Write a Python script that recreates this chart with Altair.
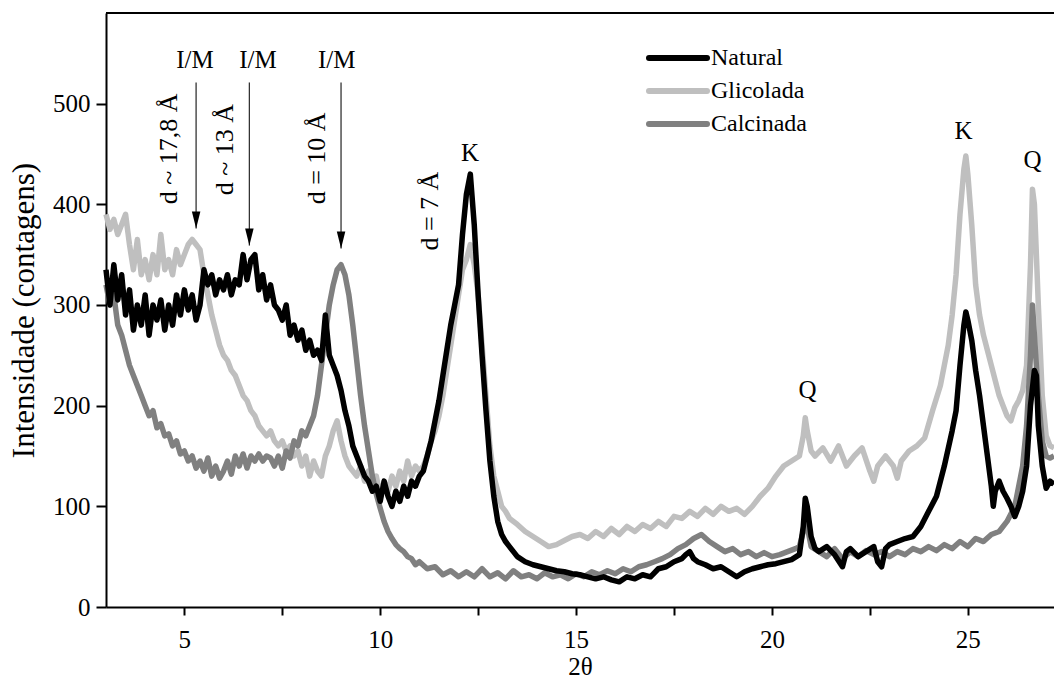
import altair as alt
import pandas as pd

SERIES = ["Natural", "Glicolada", "Calcinada"]
COLORS = ["#000000", "#bfbfbf", "#808080"]

nat_x = [3.0, 3.1, 3.2, 3.3, 3.4, 3.5, 3.6, 3.7, 3.8, 3.9, 4.0, 4.1, 4.2, 4.3, 4.4, 4.5, 4.6, 4.7, 4.8, 4.9,
         5.0, 5.1, 5.2, 5.3, 5.4, 5.5, 5.6, 5.7, 5.8, 5.9, 6.0, 6.1, 6.2, 6.3, 6.4, 6.5, 6.6, 6.7, 6.8, 6.9,
         7.0, 7.1, 7.2, 7.3, 7.4, 7.5, 7.6, 7.7, 7.8, 7.9, 8.0, 8.1, 8.2, 8.3, 8.4, 8.5, 8.6, 8.7, 8.8, 8.9,
         9.0, 9.1, 9.2, 9.3, 9.4, 9.5, 9.6, 9.7, 9.8, 9.9, 10.0, 10.1, 10.2, 10.3, 10.4, 10.5, 10.6, 10.7, 10.8, 10.9,
         11.0, 11.1, 11.2, 11.3, 11.4, 11.5, 11.6, 11.7, 11.8, 11.9, 12.0, 12.1, 12.2, 12.3, 12.4, 12.5, 12.6, 12.7, 12.8, 12.9,
         13.0, 13.1, 13.2, 13.3, 13.4, 13.5, 13.7, 13.9, 14.1, 14.3, 14.5, 14.7, 14.9, 15.1, 15.3, 15.5, 15.7, 15.9,
         16.1, 16.3, 16.5, 16.7, 16.9, 17.1, 17.3, 17.5, 17.7, 17.8, 17.9, 18.0, 18.1, 18.3, 18.5, 18.7, 18.9,
         19.1, 19.3, 19.5, 19.7, 19.9, 20.1, 20.3, 20.5, 20.7, 20.8, 20.85, 20.9, 21.0, 21.1, 21.2, 21.4, 21.6, 21.8, 21.9,
         22.0, 22.2, 22.4, 22.6, 22.7, 22.8, 22.9, 23.0, 23.2, 23.4, 23.6, 23.8, 24.0, 24.2, 24.4, 24.6, 24.7, 24.8, 24.9, 24.95,
         25.0, 25.1, 25.2, 25.3, 25.4, 25.5, 25.6, 25.65, 25.7, 25.8, 25.9, 26.0, 26.1, 26.2, 26.3, 26.4, 26.5, 26.6, 26.7, 26.75,
         26.8, 26.9, 27.0, 27.1, 27.2]
nat_y = [335, 300, 340, 305, 330, 290, 315, 275, 300, 280, 310, 270, 300, 285, 305, 275, 300, 280, 310, 290,
         315, 295, 310, 285, 300, 335, 320, 330, 310, 325, 315, 330, 310, 325, 320, 350, 325, 345, 350, 315,
         330, 305, 320, 300, 295, 285, 300, 270, 280, 265, 275, 255, 265, 250, 255, 245, 290, 250, 240, 230,
         215, 195, 180, 160, 150, 140, 130, 125, 115, 120, 105, 125, 110, 100, 115, 105, 120, 110, 125, 120,
         130, 135, 150, 165, 185, 205, 230, 255, 280, 300, 320, 370, 410, 430, 380, 310, 250, 195, 145, 110,
         85, 72, 65, 60, 55, 50, 45, 42, 40, 38, 36, 35, 33, 32, 30, 28, 30, 27,
         25, 30, 28, 32, 30, 38, 40, 45, 48, 52, 55, 48, 45, 42, 38, 40, 35,
         30, 35, 38, 40, 42, 43, 45, 47, 52, 80, 108, 100, 70, 58, 55, 60, 52, 40, 55,
         58, 50, 55, 60, 45, 40, 58, 62, 65, 68, 70, 80, 95, 110, 140, 175, 195, 240, 280, 293,
         285, 265, 235, 210, 180, 150, 120, 100, 115, 125, 115, 108, 100, 90, 100, 115, 140, 200, 235, 230,
         180, 140, 118, 125, 122]

gli_x = [3.0, 3.1, 3.2, 3.3, 3.4, 3.5, 3.6, 3.7, 3.8, 3.9, 4.0, 4.1, 4.2, 4.3, 4.4, 4.5, 4.6, 4.7, 4.8, 4.9,
         5.0, 5.1, 5.2, 5.3, 5.4, 5.5, 5.6, 5.7, 5.8, 5.9, 6.0, 6.1, 6.2, 6.3, 6.4, 6.5, 6.6, 6.7, 6.8, 6.9,
         7.0, 7.1, 7.2, 7.3, 7.4, 7.5, 7.6, 7.7, 7.8, 7.9, 8.0, 8.1, 8.2, 8.3, 8.4, 8.5, 8.6, 8.7, 8.8, 8.9,
         9.0, 9.1, 9.2, 9.3, 9.4, 9.5, 9.6, 9.7, 9.8, 9.9, 10.0, 10.1, 10.2, 10.3, 10.4, 10.5, 10.6, 10.7, 10.8, 10.9,
         11.0, 11.1, 11.2, 11.3, 11.4, 11.5, 11.6, 11.7, 11.8, 11.9, 12.0, 12.1, 12.2, 12.3, 12.4, 12.5, 12.6, 12.7, 12.8, 12.9,
         13.0, 13.1, 13.2, 13.3, 13.5, 13.7, 13.9, 14.1, 14.3, 14.5, 14.7, 14.9, 15.1, 15.3, 15.5, 15.7, 15.9,
         16.1, 16.3, 16.5, 16.7, 16.9, 17.1, 17.3, 17.5, 17.7, 17.9, 18.1, 18.3, 18.5, 18.7, 18.9,
         19.1, 19.3, 19.5, 19.7, 19.9, 20.1, 20.3, 20.5, 20.7, 20.8, 20.85, 20.9, 21.0, 21.1, 21.3, 21.5, 21.7, 21.9,
         22.1, 22.3, 22.5, 22.6, 22.7, 22.9, 23.1, 23.2, 23.3, 23.5, 23.7, 23.9, 24.1, 24.3, 24.5, 24.6, 24.7, 24.8, 24.9, 24.95,
         25.0, 25.1, 25.2, 25.3, 25.4, 25.5, 25.6, 25.7, 25.8, 25.9, 26.0, 26.1, 26.2, 26.3, 26.4, 26.5, 26.6, 26.65, 26.7,
         26.8, 26.9, 27.0, 27.1, 27.2]
gli_y = [390, 375, 385, 370, 380, 390, 360, 335, 365, 330, 345, 325, 350, 330, 370, 335, 345, 330, 355, 340,
         350, 360, 365, 360, 355, 330, 310, 290, 275, 260, 250, 245, 235, 230, 220, 210, 205, 195, 190, 180,
         175, 170, 175, 165, 160, 165, 155, 160, 150, 155, 140, 150, 130, 145, 135, 130, 150, 160, 175, 185,
         165, 150, 140, 135, 130, 140, 125, 135, 120, 130, 110, 125, 115, 130, 120, 135, 125, 145, 130, 140,
         135, 140, 150, 165, 175, 190, 210, 235, 260, 285, 310, 335, 345, 360, 340, 310, 260, 210, 160, 130,
         115, 100, 95, 88, 82, 75, 70, 65, 60, 62, 66, 70, 72, 68, 75, 70, 78,
         72, 80, 75, 82, 78, 85, 80, 90, 88, 95, 90, 98, 92, 100, 95,
         98, 92, 100, 110, 118, 130, 140, 145, 150, 170, 188, 175, 155, 150, 158, 145, 160, 140,
         150, 158, 135, 125, 140, 150, 140, 128, 145, 155, 160, 168, 195, 220, 260, 290, 330, 390, 435, 448,
         430, 380, 320, 290, 270, 255, 240, 225, 210, 200, 190, 185, 198, 205, 215, 240, 340, 415, 400,
         300, 210, 170, 160, 158]

cal_x = [3.0, 3.1, 3.2, 3.3, 3.4, 3.5, 3.6, 3.7, 3.8, 3.9, 4.0, 4.1, 4.2, 4.3, 4.4, 4.5, 4.6, 4.7, 4.8, 4.9,
         5.0, 5.1, 5.2, 5.3, 5.4, 5.5, 5.6, 5.7, 5.8, 5.9, 6.0, 6.1, 6.2, 6.3, 6.4, 6.5, 6.6, 6.7, 6.8, 6.9,
         7.0, 7.1, 7.2, 7.3, 7.4, 7.5, 7.6, 7.7, 7.8, 7.9, 8.0, 8.1, 8.2, 8.3, 8.4, 8.5, 8.6, 8.7, 8.8, 8.9,
         9.0, 9.1, 9.2, 9.3, 9.4, 9.5, 9.6, 9.7, 9.8, 9.9, 10.0, 10.1, 10.2, 10.3, 10.4, 10.5, 10.6, 10.7, 10.8, 10.9,
         11.0, 11.2, 11.4, 11.6, 11.8, 12.0, 12.2, 12.4, 12.6, 12.8, 13.0, 13.2, 13.4, 13.6, 13.8, 14.0, 14.2, 14.4, 14.6, 14.8,
         15.0, 15.2, 15.4, 15.6, 15.8, 16.0, 16.2, 16.4, 16.6, 16.8, 17.0, 17.2, 17.4, 17.6, 17.8, 18.0, 18.2, 18.4, 18.6, 18.8,
         19.0, 19.2, 19.4, 19.6, 19.8, 20.0, 20.2, 20.4, 20.6, 20.7, 20.8, 20.85, 20.9, 21.0, 21.2, 21.4, 21.6, 21.8,
         22.0, 22.2, 22.4, 22.6, 22.8, 23.0, 23.2, 23.4, 23.6, 23.8, 24.0, 24.2, 24.4, 24.6, 24.8,
         25.0, 25.2, 25.4, 25.6, 25.8, 26.0, 26.2, 26.4, 26.5, 26.6, 26.65, 26.7, 26.8, 26.9, 27.0, 27.1, 27.2]
cal_y = [320, 300, 310, 280, 270, 255, 240, 230, 220, 210, 200, 190, 195, 178, 182, 170, 172, 160, 165, 152,
         155, 145, 150, 138, 145, 135, 148, 130, 140, 128, 135, 145, 132, 150, 140, 152, 138, 150, 145, 152,
         145, 150, 148, 140, 150, 138, 155, 148, 165, 160, 175, 170, 180, 190, 210, 240, 270, 300, 320, 335,
         340, 330, 310, 280, 245, 210, 180, 155, 130, 112, 98, 85, 75, 68, 62, 58, 55, 50, 48, 42,
         45, 38, 40, 32, 36, 30, 35, 30, 38, 30, 34, 28, 36, 30, 32, 28, 34, 30, 32, 28,
         33, 30, 35, 32, 36, 33, 38, 35, 40, 42, 45, 48, 52, 58, 62, 68, 72, 65, 60, 55,
         58, 52, 55, 50, 54, 50, 52, 55, 58, 60, 75, 92, 80, 60, 55, 50, 58, 48,
         55, 50, 56, 52, 55, 50, 55, 52, 58, 55, 60, 56, 62, 58, 65,
         60, 68, 65, 72, 75, 85, 100, 140, 180, 250, 300, 270, 210, 165, 150, 148, 150]

# annotations
note_text = ["I/M", "I/M", "I/M", "K", "K", "Q", "Q"]
note_x = [5.27, 6.88, 8.89, 12.29, 24.89, 20.91, 26.65]
note_y = [535, 535, 535, 443, 465, 208, 436]

dlab_text = ["d ~ 17,8 Å", "d ~ 13 Å", "d = 10 Å", "d = 7 Å"]
dlab_x = [4.81, 6.24, 8.59, 11.47]
dlab_y = [400, 409, 400, 354]

arrow_x = [5.3, 6.66, 9.0]
arrow_top = [521, 521, 521]
arrow_tip = [376, 359, 356]

W, H = 948, 594
FONT = "Liberation Serif"

rows = []
for name, xs, ys in [("Natural", nat_x, nat_y), ("Glicolada", gli_x, gli_y), ("Calcinada", cal_x, cal_y)]:
    for a, b in zip(xs, ys):
        rows.append({"two_theta": a, "intensity": b, "series": name})
df = pd.DataFrame(rows)

notes = pd.DataFrame({"t": note_text, "x": note_x, "y": note_y})
dlabs = pd.DataFrame({"t": dlab_text, "x": dlab_x, "y": dlab_y})
arrows = pd.DataFrame({"x": arrow_x, "top": arrow_top, "tip": arrow_tip})
legend_df = pd.DataFrame({"series": SERIES})

x_scale = alt.Scale(domain=[3, 27.2], nice=False, zero=False)
y_scale = alt.Scale(domain=[0, 590], nice=False)
color_scale = alt.Scale(domain=SERIES, range=COLORS)

x_axis = alt.Axis(
    values=[5, 7.5, 10, 12.5, 15, 17.5, 20, 22.5, 25],
    labelExpr="datum.value % 5 == 0 ? format(datum.value, 'd') : ''",
    tickSize=8, tickWidth=2, tickColor="black", domainColor="black", domainWidth=2,
    labelFont=FONT, labelFontSize=25, labelColor="black", labelPadding=12,
    grid=False, title="2θ", titleFont=FONT, titleFontSize=25, titleFontWeight="normal",
    titleColor="black", titleY=67, titleBaseline="alphabetic",
)
y_axis = alt.Axis(
    values=[0, 100, 200, 300, 400, 500],
    tickSize=10, tickWidth=2, tickColor="black", domainColor="black", domainWidth=2,
    labelFont=FONT, labelFontSize=25, labelColor="black", labelPadding=6,
    grid=False, title="Intensidade (contagens)", titleFont=FONT, titleFontSize=31,
    titleFontWeight="normal", titleColor="black", titleX=-73, titleY=297,
    titleBaseline="alphabetic", titleAngle=270,
)

color = alt.Color("series:N", scale=color_scale, legend=None)


def series_layer(name):
    return (
        alt.Chart(df)
        .transform_filter(alt.datum.series == name)
        .mark_line(strokeWidth=5.5, strokeJoin="round")
        .encode(
            x=alt.X("two_theta:Q", scale=x_scale, axis=x_axis),
            y=alt.Y("intensity:Q", scale=y_scale, axis=y_axis),
            color=color,
        )
    )


lines = [series_layer("Glicolada"), series_layer("Calcinada"), series_layer("Natural")]

top_border = alt.Chart(legend_df).mark_rule(color="black", strokeWidth=2).encode(
    x=alt.value(0), x2=alt.value(W), y=alt.value(0)
)

arrow_lines = alt.Chart(arrows).mark_rule(color="#333333", strokeWidth=1.3).encode(
    x=alt.X("x:Q", scale=x_scale), y=alt.Y("top:Q", scale=y_scale), y2="tip:Q"
)
arrow_heads = alt.Chart(arrows).mark_point(
    shape="M-0.5,-2L0.5,-2L0,0Z", size=289, filled=True, color="black", opacity=1
).encode(x=alt.X("x:Q", scale=x_scale), y=alt.Y("tip:Q", scale=y_scale))

note_layer = alt.Chart(notes).mark_text(
    font=FONT, fontSize=25, color="black", baseline="alphabetic", align="center"
).encode(x=alt.X("x:Q", scale=x_scale), y=alt.Y("y:Q", scale=y_scale), text="t:N")

dlab_layer = alt.Chart(dlabs).mark_text(
    font=FONT, fontSize=26, color="black", baseline="alphabetic", align="left", angle=270
).encode(x=alt.X("x:Q", scale=x_scale), y=alt.Y("y:Q", scale=y_scale), text="t:N")

# manual legend (line sample + label per series)
legend_layers = []
row_y = [45, 78, 111]
for i, name in enumerate(SERIES):
    sub = alt.Chart(legend_df).transform_filter(alt.datum.series == name)
    legend_layers.append(
        sub.mark_rule(strokeWidth=6, strokeCap="round").encode(
            x=alt.value(543), x2=alt.value(601), y=alt.value(row_y[i]),
            color=alt.Color("series:N", scale=color_scale, legend=None),
        )
    )
    legend_layers.append(
        sub.mark_text(font=FONT, fontSize=24, color="black", align="left", baseline="middle").encode(
            x=alt.value(605), y=alt.value(row_y[i]), text="series:N"
        )
    )

chart = (
    alt.layer(*lines, top_border, arrow_lines, arrow_heads, note_layer, dlab_layer, *legend_layers)
    .properties(
        width=W, height=H,
        autosize=alt.AutoSizeParams(type="none"),
        padding={"left": 106, "top": 13, "right": 0, "bottom": 72},
        background="white",
    )
    .configure_view(stroke=None)
)

chart.save("out.html", embed_options={"renderer": "svg", "actions": False})
